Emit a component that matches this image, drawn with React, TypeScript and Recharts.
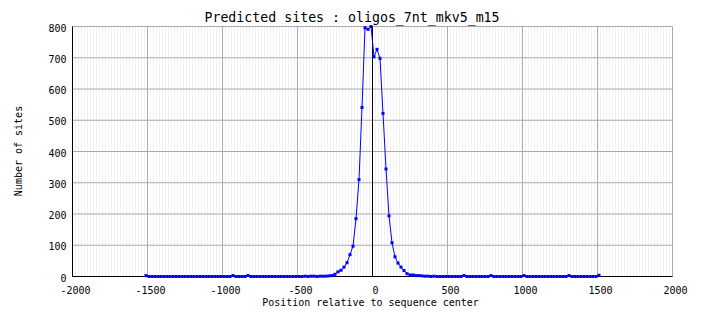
import React from "react";
import {
  LineChart, Line, XAxis, YAxis, CartesianGrid, ReferenceLine,
} from "recharts";

// bin centres: every 20 bp from -1510 to 1510
const positions = Array.from({ length: 152 }, (_, i) => -1510 + 20 * i);

const siteCounts = [
  3, 0, 0, 0, 0, 0, 0, 0, 0, 0,
  0, 0, 0, 0, 0, 0, 0, 0, 0, 0,
  0, 0, 0, 0, 0, 0, 0, 0, 0, 3,
  0, 0, 0, 0, 3, 0, 0, 0, 0, 0,
  0, 0, 0, 0, 0, 0, 0, 0, 0, 0,
  0, 0, 0, 1, 0, 1, 1, 0, 1, 1,
  1, 2, 3, 7, 15, 20, 30, 44, 70, 97,
  185, 310, 541, 796, 791, 800, 703, 727, 698, 522,
  344, 194, 108, 63, 43, 30, 19, 9, 5, 5,
  3, 3, 2, 1, 1, 0, 1, 0, 0, 0,
  0, 0, 0, 0, 0, 0, 3, 0, 0, 0,
  0, 0, 0, 0, 0, 3, 0, 0, 0, 0,
  0, 0, 0, 0, 0, 0, 3, 0, 0, 0,
  0, 0, 0, 0, 0, 0, 0, 0, 0, 0,
  0, 3, 0, 0, 0, 0, 0, 0, 0, 0,
  0, 4,
];

const xTicks = [-2000, -1500, -1000, -500, 0, 500, 1000, 1500, 2000];
const yTicks = [0, 100, 200, 300, 400, 500, 600, 700, 800];
const minorXTicks = Array.from({ length: 201 }, (_, i) => -2000 + 20 * i);

const data = positions.map((x, i) => ({ x, sites: siteCounts[i] }));

const FONT = "'DejaVu Sans Mono', monospace";

function XTick({ x, y, payload }: any) {
  return (
    <text x={x + 3} y={y + 17} textAnchor="middle" fontFamily={FONT} fontSize={10} fill="#000">
      {payload.value}
    </text>
  );
}

function YTick({ x, y, payload }: any) {
  return (
    <text x={x - 6} y={y + 5} textAnchor="end" fontFamily={FONT} fontSize={10} fill="#000">
      {payload.value}
    </text>
  );
}

function SquareDot({ cx, cy, index }: any) {
  return <rect key={index} x={cx - 1.5} y={cy - 1.5} width={3} height={3} fill="#0000ff" />;
}

export default function App() {
  return (
    <div style={{ position: "absolute", left: 0, top: 0, width: 704, height: 328, background: "#fff" }}>
      <LineChart
        width={704}
        height={328}
        data={data}
        margin={{ top: 26.5, right: 31.5, bottom: 0, left: 0 }}
      >
        <XAxis xAxisId="minor" type="number" dataKey="x" domain={[-2000, 2000]} ticks={minorXTicks} interval={0} hide />
        <CartesianGrid xAxisId="minor" horizontal={false} stroke="#f1f1f1" />
        <CartesianGrid stroke="#aaaaaa" />
        <XAxis
          type="number"
          dataKey="x"
          domain={[-2000, 2000]}
          ticks={xTicks}
          interval={0}
          height={51.5}
          tickSize={0}
          tickMargin={0}
          axisLine={{ stroke: "#000" }}
          tickLine={false}
          tick={<XTick />}
        />
        <YAxis
          domain={[0, 800]}
          ticks={yTicks}
          interval={0}
          width={72.5}
          tickSize={0}
          tickMargin={0}
          axisLine={{ stroke: "#000" }}
          tickLine={false}
          tick={<YTick />}
        />
        <ReferenceLine x={0} stroke="#000" />
        <Line
          dataKey="sites"
          stroke="#0000ff"
          strokeWidth={1}
          dot={SquareDot}
          activeDot={false}
          isAnimationActive={false}
        />
      </LineChart>
      <svg width={704} height={328} style={{ position: "absolute", left: 0, top: 0, pointerEvents: "none" }}>
        <text x={352} y={22} textAnchor="middle" fontFamily={FONT} fontSize={13.25} fill="#000">
          Predicted sites : oligos_7nt_mkv5_m15
        </text>
        <text x={370.5} y={306} textAnchor="middle" fontFamily={FONT} fontSize={10} fill="#000">
          Position relative to sequence center
        </text>
        <text
          x={0}
          y={0}
          transform="translate(21.5,151) rotate(-90)"
          textAnchor="middle"
          fontFamily={FONT}
          fontSize={10}
          fill="#000"
        >
          Number of sites
        </text>
      </svg>
    </div>
  );
}
